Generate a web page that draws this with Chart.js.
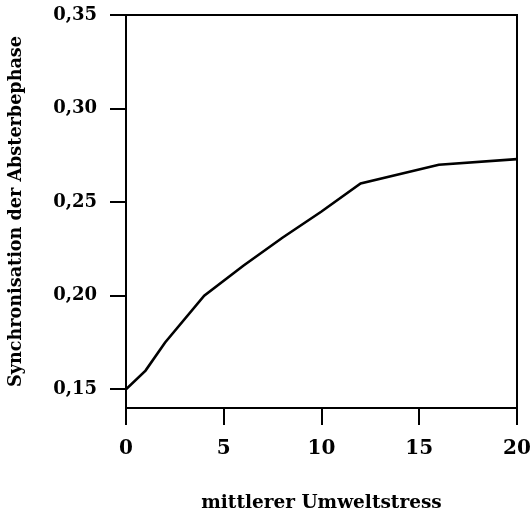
<!DOCTYPE html>
<html>
<head>
<meta charset="utf-8">
<script src="https://cdn.jsdelivr.net/npm/chart.js@4"></script>
<style>
html,body{margin:0;padding:0;background:#fff;}
#wrap{width:532px;height:518px;position:relative;}
</style>
</head>
<body>
<div id="wrap"><canvas id="c" width="532" height="518"></canvas></div>
<script>
// Data
const stressValues = [0, 1, 2, 4, 6, 8, 10, 12, 16, 20];
const syncValues   = [0.150, 0.160, 0.175, 0.200, 0.216, 0.231, 0.245, 0.260, 0.270, 0.273];
const yTickValues  = [0.15, 0.20, 0.25, 0.30, 0.35];
const xTickValues  = [0, 5, 10, 15, 20];
const xTitle = 'mittlerer Umweltstress';
const yTitle = 'Synchronisation der Absterbephase';

const points = stressValues.map((x, i) => ({x: x, y: syncValues[i]}));
const FONT = '"DejaVu Serif", serif';

const boxPlugin = {
  id: 'box',
  afterDatasetsDraw(chart) {
    const {ctx, chartArea: a} = chart;
    ctx.save();
    ctx.strokeStyle = '#000';
    ctx.lineWidth = 2;
    ctx.beginPath();
    ctx.moveTo(a.left, a.top);
    ctx.lineTo(a.right, a.top);
    ctx.lineTo(a.right, a.bottom);
    ctx.stroke();
    ctx.restore();
  }
};

new Chart(document.getElementById('c'), {
  type: 'line',
  data: {
    datasets: [{
      data: points,
      borderColor: '#000',
      borderWidth: 2.6,
      pointRadius: 0,
      tension: 0,
      fill: false
    }]
  },
  options: {
    responsive: false,
    animation: false,
    devicePixelRatio: 1,
    layout: {padding: {left: 0, right: 15, top: 15, bottom: 0}},
    plugins: {legend: {display: false}, tooltip: {enabled: false}},
    scales: {
      x: {
        type: 'linear',
        min: 0, max: 20,
        afterBuildTicks: s => { s.ticks = xTickValues.map(v => ({value: v})); },
        afterFit: s => { s.height = 110; s.paddingLeft = 0; s.paddingRight = 0; },
        border: {display: true, color: '#000', width: 2},
        grid: {drawOnChartArea: false, drawTicks: true, tickLength: 17, color: '#000', lineWidth: 2},
        ticks: {color: '#000', padding: 12, font: {family: FONT, size: 20, weight: 'bold'}, maxRotation: 0},
        title: {display: true, text: xTitle, color: '#000', padding: {top: 0, bottom: 4},
                font: {family: FONT, size: 18.5, weight: 'bold'}}
      },
      y: {
        type: 'linear',
        min: 0.14, max: 0.35,
        afterBuildTicks: s => { s.ticks = yTickValues.map(v => ({value: v})); },
        afterFit: s => { s.width = 126; s.paddingTop = 0; s.paddingBottom = 0; },
        border: {display: true, color: '#000', width: 2},
        grid: {drawOnChartArea: false, drawTicks: true, tickLength: 16, color: '#000', lineWidth: 2},
        ticks: {color: '#000', padding: 13, font: {family: FONT, size: 18, weight: 'bold'},
                callback: v => v.toFixed(2).replace('.', ',')},
        title: {display: true, text: yTitle, color: '#000', padding: {top: 6, bottom: 0},
                font: {family: FONT, size: 17.6, weight: 'bold'}}
      }
    }
  },
  plugins: [boxPlugin]
});
</script>
</body>
</html>
